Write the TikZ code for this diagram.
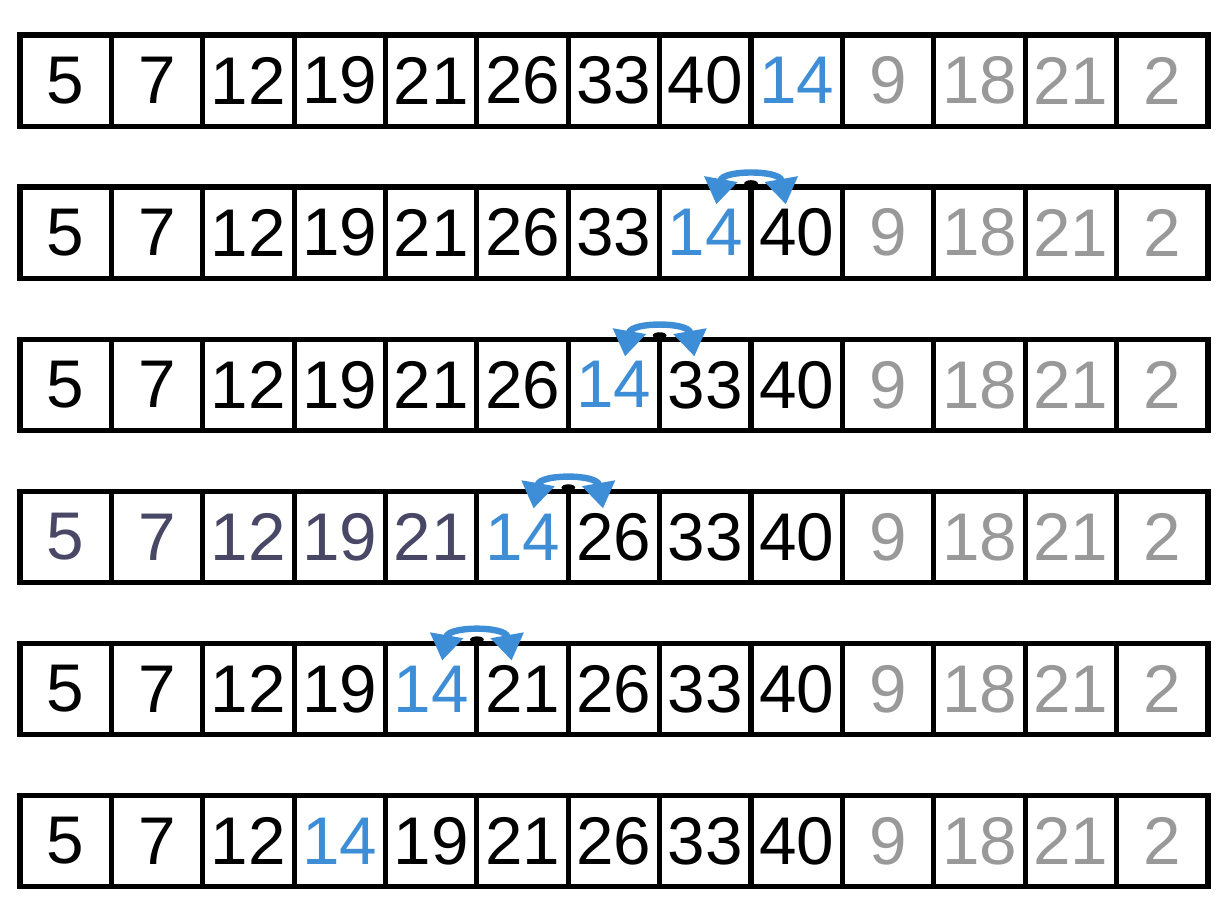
\documentclass[tikz,border=0pt]{standalone}
\usepackage{fontspec}
\setmainfont{Liberation Sans}
\usetikzlibrary{arrows.meta}
\definecolor{keyblue}{RGB}{61,142,214}
\definecolor{restgray}{RGB}{153,153,153}
\definecolor{doneslate}{RGB}{72,72,102}

\tikzset{
  cell/.style={draw=black, line width=1.6pt, minimum size=1cm, inner sep=0pt,
    outer sep=0pt, anchor=north west, font=\fontsize{21}{24}\selectfont},
  swaparc/.style={keyblue, line width=2pt, looseness=1.3,
    {Triangle[width=10pt,length=8pt]}-{Triangle[width=10pt,length=8pt]}},
  pivot/.style={black, line width=1.3pt},
}

\begin{document}
\begin{tikzpicture}
    \useasboundingbox (-0.219,0) rectangle (13.263,-10.0);

    % Row 1: 14 is the next key
    \foreach \v/\c [count=\i from 0] in {5/black,7/black,12/black,19/black,21/black,26/black,33/black,40/black,14/keyblue,9/restgray,18/restgray,21/restgray,2/restgray}
        \node[cell, text=\c] (r1-\i) at (\i,-0.383) {\v};

    % Row 2
    \foreach \v/\c [count=\i from 0] in {5/black,7/black,12/black,19/black,21/black,26/black,33/black,14/keyblue,40/black,9/restgray,18/restgray,21/restgray,2/restgray}
        \node[cell, text=\c] (r2-\i) at (\i,-2.047) {\v};

    % Row 3
    \foreach \v/\c [count=\i from 0] in {5/black,7/black,12/black,19/black,21/black,26/black,14/keyblue,33/black,40/black,9/restgray,18/restgray,21/restgray,2/restgray}
        \node[cell, text=\c] (r3-\i) at (\i,-3.711) {\v};

    % Row 4
    \foreach \v/\c [count=\i from 0] in {5/doneslate,7/doneslate,12/doneslate,19/doneslate,21/doneslate,14/keyblue,26/black,33/black,40/black,9/restgray,18/restgray,21/restgray,2/restgray}
        \node[cell, text=\c] (r4-\i) at (\i,-5.375) {\v};

    % Row 5
    \foreach \v/\c [count=\i from 0] in {5/black,7/black,12/black,19/black,14/keyblue,21/black,26/black,33/black,40/black,9/restgray,18/restgray,21/restgray,2/restgray}
        \node[cell, text=\c] (r5-\i) at (\i,-7.039) {\v};

    % Row 6: 14 in place
    \foreach \v/\c [count=\i from 0] in {5/black,7/black,12/black,14/keyblue,19/black,21/black,26/black,33/black,40/black,9/restgray,18/restgray,21/restgray,2/restgray}
        \node[cell, text=\c] (r6-\i) at (\i,-8.703) {\v};

    % Swap marks
    \foreach \r/\k in {2/7,3/6,4/5,5/4} {
        \coordinate (s\r) at (r\r-\k.north east);
        \coordinate (s\r l) at ([xshift=-0.38cm, yshift=-0.19cm]s\r);
        \coordinate (s\r r) at ([xshift=0.38cm, yshift=-0.19cm]s\r);
        \draw[pivot] (r\r-\k.south east) -- ([yshift=0.04cm]s\r);
        \fill ([yshift=0.04cm]s\r) ellipse (0.075 and 0.035);
        \draw[swaparc] (s\r l) to[out=80, in=100] (s\r r);
    }
\end{tikzpicture}
\end{document}
